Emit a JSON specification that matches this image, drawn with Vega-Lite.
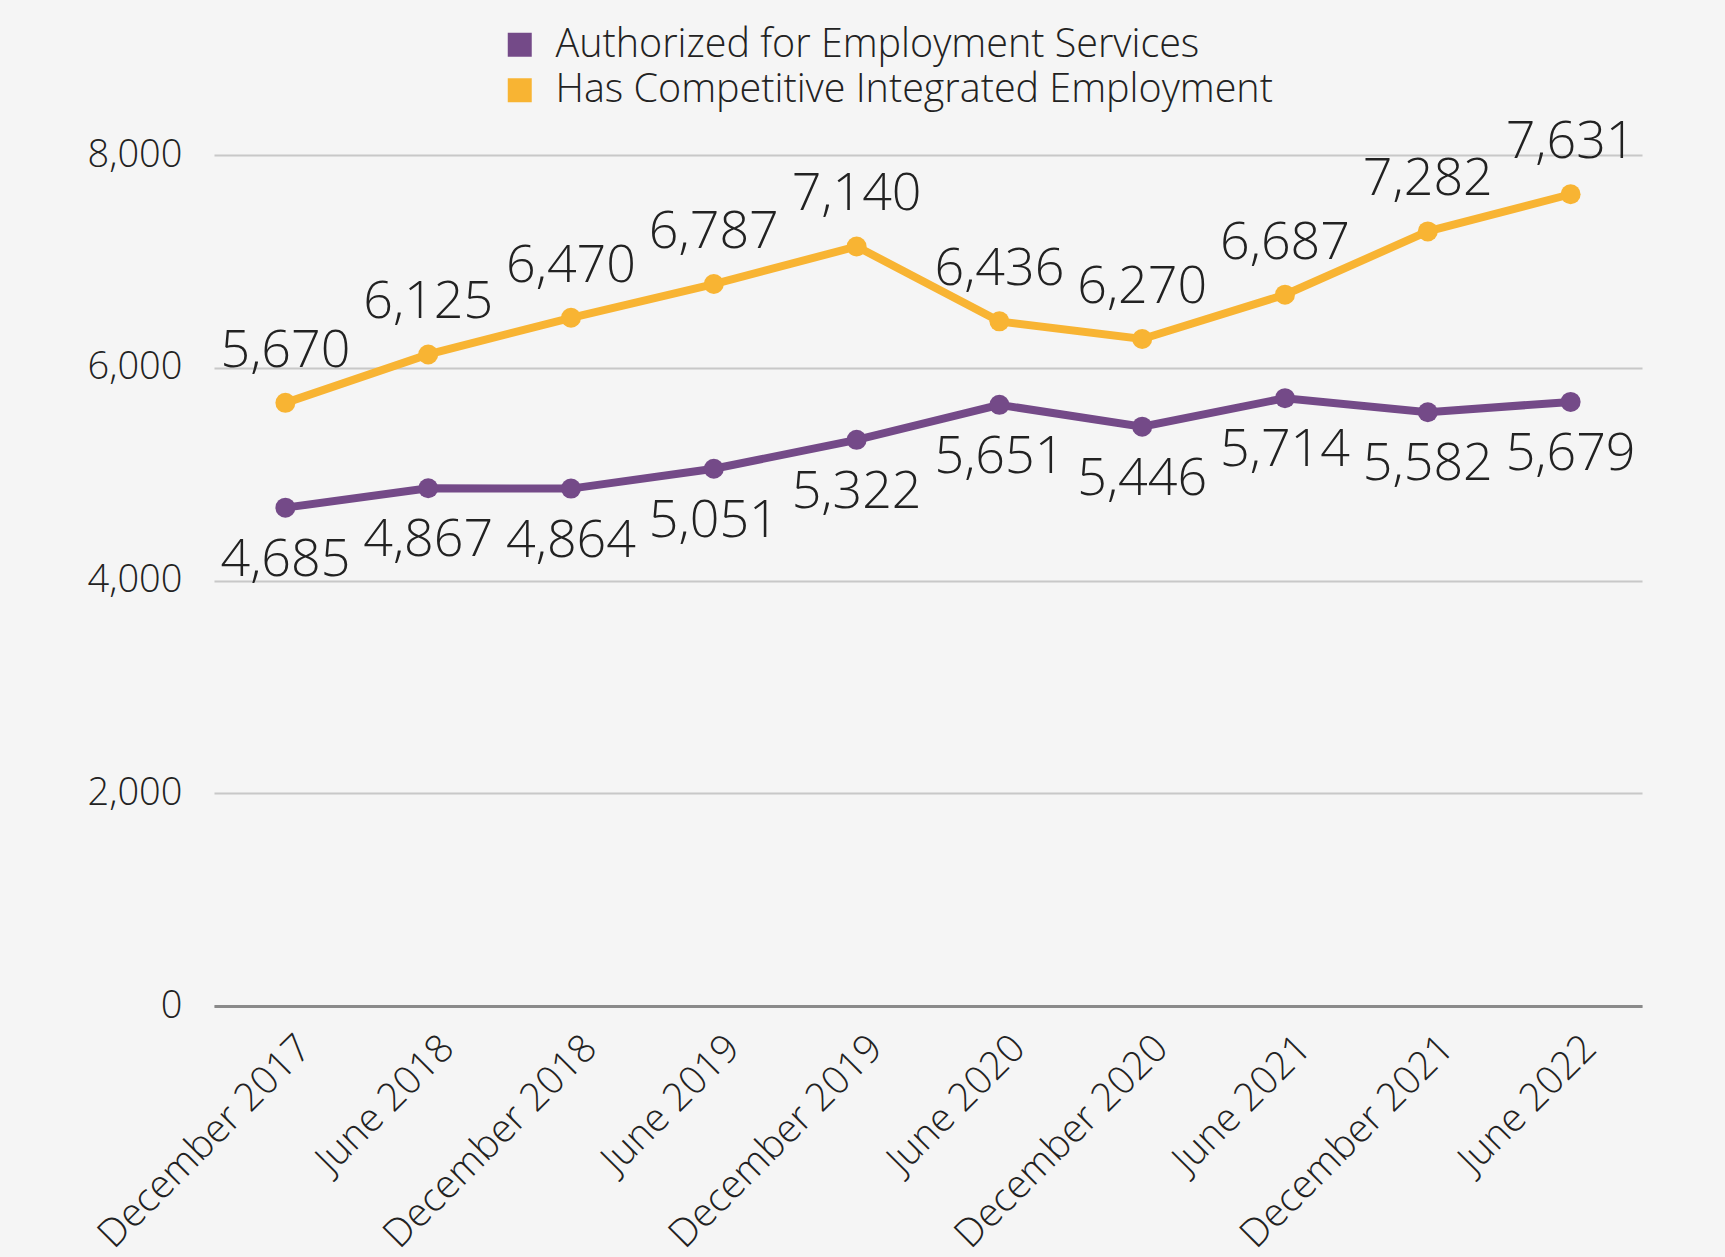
{
  "$schema": "https://vega.github.io/schema/vega-lite/v6.json",
  "width": 1428,
  "height": 851,
  "autosize": {"type": "none"},
  "padding": {"left": 214, "top": 155, "right": 83, "bottom": 251},
  "background": "#f5f5f5",
  "config": {
    "view": {"stroke": null},
    "font": "Open Sans"
  },
  "data": {
    "values": [
      {"period": "December 2017", "series": "Authorized for Employment Services", "value": 4685},
      {"period": "June 2018", "series": "Authorized for Employment Services", "value": 4867},
      {"period": "December 2018", "series": "Authorized for Employment Services", "value": 4864},
      {"period": "June 2019", "series": "Authorized for Employment Services", "value": 5051},
      {"period": "December 2019", "series": "Authorized for Employment Services", "value": 5322},
      {"period": "June 2020", "series": "Authorized for Employment Services", "value": 5651},
      {"period": "December 2020", "series": "Authorized for Employment Services", "value": 5446},
      {"period": "June 2021", "series": "Authorized for Employment Services", "value": 5714},
      {"period": "December 2021", "series": "Authorized for Employment Services", "value": 5582},
      {"period": "June 2022", "series": "Authorized for Employment Services", "value": 5679},
      {"period": "December 2017", "series": "Has Competitive Integrated Employment", "value": 5670},
      {"period": "June 2018", "series": "Has Competitive Integrated Employment", "value": 6125},
      {"period": "December 2018", "series": "Has Competitive Integrated Employment", "value": 6470},
      {"period": "June 2019", "series": "Has Competitive Integrated Employment", "value": 6787},
      {"period": "December 2019", "series": "Has Competitive Integrated Employment", "value": 7140},
      {"period": "June 2020", "series": "Has Competitive Integrated Employment", "value": 6436},
      {"period": "December 2020", "series": "Has Competitive Integrated Employment", "value": 6270},
      {"period": "June 2021", "series": "Has Competitive Integrated Employment", "value": 6687},
      {"period": "December 2021", "series": "Has Competitive Integrated Employment", "value": 7282},
      {"period": "June 2022", "series": "Has Competitive Integrated Employment", "value": 7631}
    ]
  },
  "encoding": {
    "x": {
      "field": "period",
      "type": "nominal",
      "sort": null,
      "scale": {"type": "band", "paddingInner": 0, "paddingOuter": 0},
      "axis": {
        "title": null,
        "labelAngle": -45,
        "labelFont": "Open Sans",
        "labelFontSize": 39,
        "labelFontWeight": 300,
        "labelColor": "#222222",
        "labelLimit": 1000,
        "labelPadding": 22,
        "labelOffset": 6,
        "ticks": false,
        "domain": true,
        "domainColor": "#8a8a8a",
        "domainWidth": 3,
        "grid": false
      }
    },
    "y": {
      "field": "value",
      "type": "quantitative",
      "scale": {"domain": [0, 8000], "nice": false},
      "axis": {
        "title": null,
        "values": [0, 2000, 4000, 6000, 8000],
        "format": ",.0f",
        "labelFont": "Open Sans",
        "labelFontSize": 38,
        "labelFontWeight": 300,
        "labelColor": "#222222",
        "labelPadding": 32,
        "ticks": false,
        "domain": false,
        "grid": true,
        "gridColor": "#c8c8c8",
        "gridWidth": 2
      }
    },
    "color": {
      "field": "series",
      "type": "nominal",
      "scale": {
        "domain": ["Authorized for Employment Services", "Has Competitive Integrated Employment"],
        "range": ["#744a88", "#f8b433"]
      },
      "legend": {
        "title": null,
        "orient": "none",
        "legendX": 286,
        "legendY": -130,
        "direction": "vertical",
        "padding": 0,
        "labelFont": "Open Sans",
        "labelFontSize": 39.5,
        "labelFontWeight": 300,
        "labelColor": "#222222",
        "labelLimit": 1000,
        "labelOffset": 16,
        "rowPadding": 4.5,
        "symbolType": "square",
        "symbolSize": 576,
        "symbolStrokeWidth": 0,
        "symbolOpacity": 1,
        "encode": {
          "symbols": {
            "update": {
              "fill": {"scale": "color", "field": "value"},
              "stroke": {"value": "transparent"}
            }
          }
        }
      }
    }
  },
  "layer": [
    {
      "mark": {"type": "line", "strokeWidth": 8, "clip": false}
    },
    {
      "mark": {"type": "point", "filled": true, "size": 400, "opacity": 1}
    },
    {
      "transform": [{"filter": "datum.series === 'Has Competitive Integrated Employment'"}],
      "mark": {"type": "text", "fontSize": 52, "fontWeight": 300, "font": "Open Sans", "baseline": "alphabetic", "dy": -36},
      "encoding": {
        "text": {"field": "value", "type": "quantitative", "format": ",.0f"},
        "color": {"value": "#222222"}
      }
    },
    {
      "transform": [{"filter": "datum.series === 'Authorized for Employment Services'"}],
      "mark": {"type": "text", "fontSize": 52, "fontWeight": 300, "font": "Open Sans", "baseline": "alphabetic", "dy": 68},
      "encoding": {
        "text": {"field": "value", "type": "quantitative", "format": ",.0f"},
        "color": {"value": "#222222"}
      }
    }
  ]
}
